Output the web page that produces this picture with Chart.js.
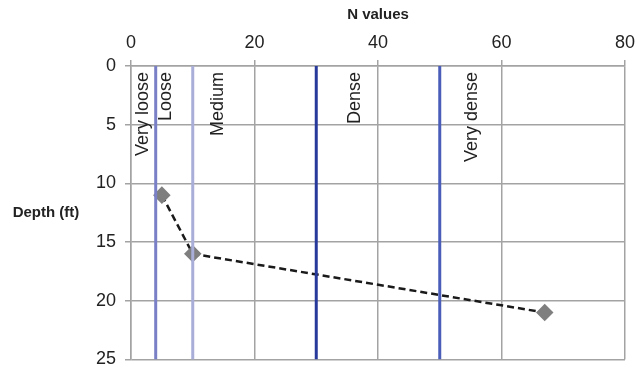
<!DOCTYPE html>
<html>
<head>
<meta charset="utf-8">
<script src="https://cdn.jsdelivr.net/npm/chart.js@4"></script>
<style>
  html, body { margin: 0; padding: 0; background: #fff; }
  #wrap { width: 637px; height: 369px; }
</style>
</head>
<body>
<div id="wrap"><canvas id="sptChart"></canvas></div>
<script>
// measured N values against depth
const nValues = [5, 10, 67];
const depths = [11, 16, 21];

// consistency boundaries (N) and their colours
const boundaries = [4, 10, 30, 50];
const boundaryColors = ["#7a80c6", "#a9aed8", "#27399a", "#4a5db8"];

// zone labels and where they sit along N
const zoneNames = ["Very loose", "Loose", "Medium", "Dense", "Very dense"];
const zoneLabelX = [1.9, 5.6, 14.1, 36.3, 55.2];

const xTicks = [0, 20, 40, 60, 80];
const yTicks = [0, 5, 10, 15, 20, 25];

const FONT = "'Liberation Sans', Arial, sans-serif";
const GRID = "#a3a3a3";

const boundarySets = boundaries.map((b, i) => ({
    data: [{ x: b, y: 0 }, { x: b, y: 25 }],
    showLine: true,
    borderColor: boundaryColors[i],
    borderWidth: 3,
    pointRadius: 0,
}));

const labelsPlugin = {
    id: "labels",
    afterDatasetsDraw(chart) {
        const { ctx, scales, chartArea } = chart;
        ctx.save();
        ctx.fillStyle = "#222";
        ctx.font = "18px " + FONT;
        ctx.textAlign = "right";
        ctx.textBaseline = "middle";
        zoneNames.forEach((name, i) => {
            ctx.save();
            ctx.translate(scales.x.getPixelForValue(zoneLabelX[i]), chartArea.top + 6);
            ctx.rotate(-Math.PI / 2);
            ctx.fillText(name, 0, 0);
            ctx.restore();
        });
        ctx.font = "bold 15px " + FONT;
        ctx.textAlign = "center";
        ctx.fillText("N values", 378, 15);
        ctx.fillText("Depth (ft)", 46, (chartArea.top + chartArea.bottom) / 2);
        ctx.restore();
    },
};

new Chart(document.getElementById("sptChart"), {
    type: "scatter",
    data: {
        datasets: [
            ...boundarySets,
            {
                data: nValues.map((n, i) => ({ x: n, y: depths[i] })),
                showLine: true,
                borderColor: "#1a1a1a",
                borderWidth: 2.5,
                borderDash: [7, 4],
                pointStyle: "rectRot",
                pointRadius: 7,
                pointHoverRadius: 7,
                pointBackgroundColor: "#7f7f7f",
                pointBorderColor: "#7f7f7f",
            },
        ],
    },
    options: {
        responsive: true,
        maintainAspectRatio: false,
        animation: false,
        layout: { padding: { left: 0, top: 0, right: 12, bottom: 8 } },
        plugins: { legend: { display: false }, tooltip: { enabled: false } },
        scales: {
            x: {
                type: "linear",
                position: "top",
                min: 0,
                max: 80,
                afterBuildTicks: (s) => { s.ticks = xTicks.map((v) => ({ value: v })); },
                afterFit: (s) => { s.height = 66; s.paddingLeft = 0; s.paddingRight = 0; },
                grid: { color: GRID, lineWidth: 1.5, tickLength: 6 },
                border: { color: GRID, width: 1.5 },
                ticks: { color: "#222", font: { family: FONT, size: 18 }, padding: 6 },
            },
            y: {
                type: "linear",
                reverse: true,
                min: 0,
                max: 25,
                afterBuildTicks: (s) => { s.ticks = yTicks.map((v) => ({ value: v })); },
                afterFit: (s) => { s.width = 131; s.paddingTop = 0; s.paddingBottom = 0; },
                grid: { color: GRID, lineWidth: 1.5, tickLength: 6 },
                border: { color: GRID, width: 1.5 },
                ticks: { color: "#222", font: { family: FONT, size: 18 }, padding: 9 },
            },
        },
    },
    plugins: [labelsPlugin],
});
</script>
</body>
</html>
